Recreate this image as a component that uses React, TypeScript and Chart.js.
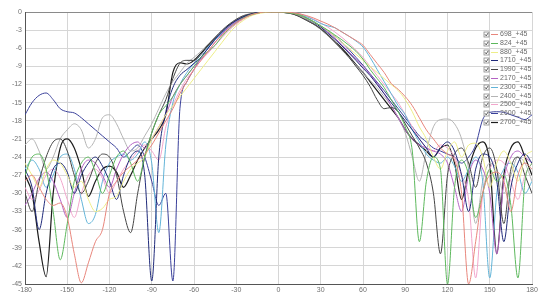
import React, { useEffect, useRef } from "react";
import { Chart, registerables } from "chart.js";

Chart.register(...registerables);

const ANGLES = [
  -180, -175, -170, -165, -160, -155, -150, -145, -140, -135, -130, -125,
  -120, -115, -110, -105, -100, -95, -90, -85, -80, -75, -70, -65,
  -60, -55, -50, -45, -40, -35, -30, -25, -20, -15, -10, -5,
  0, 5, 10, 15, 20, 25, 30, 35, 40, 45, 50, 55,
  60, 65, 70, 75, 80, 85, 90, 95, 100, 105, 110, 115,
  120, 125, 130, 135, 140, 145, 150, 155, 160, 165, 170, 175,
  180,
];

const Y_TICKS = [0, -3, -6, -9, -12, -15, -18, -21, -24, -27, -30, -33, -36, -39, -42, -45];
const X_TICKS = [-180, -150, -120, -90, -60, -30, 0, 30, 60, 90, 120, 150, 180];

const LABELS = [
  "698_+45", "824_+45", "880_+45", "1710_+45", "1990_+45", "2170_+45",
  "2300_+45", "2400_+45", "2500_+45", "2600_+45", "2700_+45",
];

const COLORS = [
  "#e8867c", "#5cb85c", "#eeee88", "#1f2a7a", "#444444", "#b462c4",
  "#62b4d8", "#b4b4b4", "#f2a6cc", "#3a409a", "#1c1c1c",
];

const WIDTHS = [1, 1, 1, 1, 1, 1, 1, 1, 1, 1, 1.2];

const S698 = [
  -28, -27, -29, -31, -32, -31.6, -34, -40, -44.8, -41.5, -38, -36,
  -30, -28, -26.5, -25.5, -24.5, -23.5, -22, -20, -18, -16, -13.5, -11.5,
  -9.5, -8, -6.5, -5, -3.8, -2.7, -1.8, -1.1, -0.5, -0.2, 0, 0,
  0, 0, -0.1, -0.3, -0.6, -1, -1.5, -2, -2.6, -3.3, -4, -4.7,
  -5.5, -7, -8.5, -10, -11.8, -12.8, -14, -15.5, -17.5, -19.5, -21, -22.5,
  -23.5, -24.5, -30, -45, -38, -30, -27, -26.5, -28, -33, -27, -25,
  -26,
];

const S824 = [
  -27, -24, -23.5, -26, -33, -41, -35, -28, -25, -24, -26.5, -30,
  -27, -24, -23, -25, -28, -24, -20, -17, -15.5, -14, -12, -10.5,
  -9, -7.5, -6.5, -5.5, -4, -2.8, -1.8, -1, -0.5, -0.2, 0, 0,
  0, -0.1, -0.2, -0.5, -1, -1.6, -2.3, -3, -3.8, -4.6, -5.5, -6.5,
  -7.8, -9.5, -11, -12.5, -14.5, -16.5, -19, -23, -38, -28, -24, -26,
  -45, -29, -24.5, -27, -34, -30, -26, -28, -27, -32, -44, -28,
  -25,
];

const S880 = [
  -25, -27, -29, -26, -24.5, -25, -27, -29, -28, -31, -33, -32.5,
  -31, -30.5, -28, -26, -25, -24, -21, -19, -17, -15.5, -14, -12.5,
  -11, -9.5, -8, -6.5, -5, -3.5, -2.3, -1.4, -0.7, -0.3, -0.1, 0,
  0, 0, -0.2, -0.5, -1, -1.6, -2.3, -3.1, -4, -5, -6, -7,
  -8, -9, -10, -11, -12, -13, -14.5, -16.5, -19, -21, -24, -26,
  -23, -21.5, -24, -22, -21.7, -24, -29, -25, -23, -25, -28, -24,
  -23,
];

const S1710 = [
  -26, -29, -36, -30, -26, -25, -26.5, -30, -27, -25, -24, -25.5,
  -28, -31, -27, -24, -23, -27, -44.5, -24, -16.5, -12.5, -10.5, -9.5,
  -8.5, -7.5, -6, -4.5, -3.2, -2.2, -1.4, -0.8, -0.4, -0.1, 0, 0,
  0, 0, -0.2, -0.5, -1, -1.7, -2.5, -3.5, -4.5, -5.6, -6.8, -8,
  -9.3, -10.5, -12, -13.5, -15, -16.5, -18, -19.5, -21, -22.5, -24, -22.5,
  -21.5, -23, -27, -33, -26, -23.5, -24, -28, -38, -29, -25, -23.5,
  -25,
];

const S1990 = [
  -30, -33, -28, -24, -21.5, -21, -23, -27, -30, -28, -25, -23.5,
  -24, -27, -33, -36.5, -30, -24, -20, -17, -14.5, -11, -8.5, -8,
  -8, -7, -5.5, -4.2, -3, -2, -1.2, -0.6, -0.3, -0.1, 0, 0,
  0, -0.1, -0.3, -0.8, -1.4, -2, -2.8, -3.8, -5, -6.2, -7.5, -9,
  -10.5, -12.3, -14.5, -16, -15.8, -16.5, -18.5, -20.5, -22.5, -25, -30, -40,
  -27, -23.5, -22.5, -25, -29, -24, -22.5, -26, -35, -26, -24, -27,
  -30,
];

const S2170 = [
  -32, -30, -27.5, -26.5, -28, -31, -34, -30, -26, -24.5, -25, -27,
  -29, -26, -23.5, -22, -21.5, -22.5, -21, -19, -17, -14, -12, -10.5,
  -9, -7.8, -6.5, -5, -3.6, -2.5, -1.6, -1, -0.5, -0.2, 0, 0,
  0, 0, -0.2, -0.5, -1, -1.6, -2.4, -3.3, -4.3, -5.4, -6.6, -7.8,
  -9, -10.3, -11.8, -13.5, -15.5, -17.5, -19.5, -21, -22, -22.5, -23, -23.5,
  -25, -29, -33, -27, -24.5, -26, -30, -40, -28, -24, -23, -24,
  -25,
];

const S2300 = [
  -26, -24.5, -26, -29, -27, -24, -23.5, -26, -31, -35, -33.5, -28,
  -25, -24, -23.5, -24.5, -23.5, -21.5, -25, -36.5, -22, -15, -12, -10,
  -8.5, -7, -5.8, -4.6, -3.5, -2.5, -1.7, -1, -0.5, -0.2, 0, 0,
  0, 0, -0.1, -0.4, -0.8, -1.3, -1.9, -2.3, -2.6, -3.3, -4, -4.8,
  -5.8, -7.5, -9.5, -11.5, -13.5, -15.5, -17, -19.5, -21.5, -23.5, -24.5, -25,
  -24, -25.5, -28, -26, -24, -28, -44, -30, -26, -25, -26.5, -30,
  -28,
];

const S2400 = [
  -22, -21, -23, -26, -24, -21, -19.5, -18.5, -19.5, -22.5, -21, -17.5,
  -17, -18.5, -21, -23, -22.5, -20.5, -18.5, -16, -13.5, -11.5, -10, -8.5,
  -7.5, -6.5, -5.3, -4.2, -3.2, -2.3, -1.5, -0.9, -0.4, -0.1, 0, 0,
  0, -0.1, -0.3, -0.7, -1.3, -2, -2.9, -3.9, -5, -6.3, -7.5, -8.8,
  -10, -11.3, -12.5, -14, -15.5, -17.5, -20, -24, -28, -23, -19, -17.8,
  -17.7, -18.5, -21, -26, -35, -28, -25, -26, -30, -27, -24, -25,
  -28,
];

const S2500 = [
  -29, -31, -29.5, -27, -26, -27.5, -31, -34, -30, -27, -26, -27.5,
  -30, -28, -26, -24.5, -23, -22, -23, -24.5, -19, -15.5, -13, -11,
  -9.5, -8, -6.8, -5.5, -4.2, -3, -2, -1.2, -0.6, -0.2, 0, 0,
  0, 0, -0.1, -0.3, -0.7, -1.2, -1.8, -2.5, -3.3, -4.2, -5.2, -6.3,
  -7.5, -9, -10.5, -12, -13.5, -15, -17, -19, -21, -22.5, -23, -22,
  -22.5, -24, -27, -31, -44, -30, -26, -24.5, -25, -28, -31, -27,
  -25,
];

const S2600 = [
  -17, -15, -13.8, -13.4, -14.5, -16, -16.5, -16.7, -17.5, -18.5, -19.5, -20.5,
  -21.5, -22.5, -24, -23, -22, -24, -28, -32, -30, -44.5, -16, -11.5,
  -9.5, -7.5, -6, -4.6, -3.4, -2.4, -1.6, -1, -0.5, -0.2, 0, 0,
  0, 0, -0.2, -0.5, -1, -1.6, -2.3, -3.1, -4, -5, -6.2, -7.5,
  -8.8, -10.2, -11.6, -13, -14.5, -16, -17.5, -19, -20.5, -21.5, -22.5, -23,
  -23.5, -24, -25, -24, -22, -17.8, -16.6, -16.5, -16.6, -17, -17.4, -17.8,
  -17,
];

const S2700 = [
  -27, -30, -38, -43.8, -30, -22.5, -21, -22.5, -26, -30.5, -28, -26,
  -25.5, -26.5, -29, -27, -24.5, -22.5, -21, -19.5, -17, -10, -8.4, -8.6,
  -8, -6.8, -5.5, -4.3, -3.2, -2.2, -1.4, -0.8, -0.4, -0.1, 0, 0,
  0, -0.1, -0.3, -0.7, -1.3, -2, -2.8, -3.8, -4.9, -6, -7.3, -8.7,
  -10, -11.5, -13, -14.5, -16, -17.5, -19.5, -21, -22, -23, -24, -22.5,
  -22, -25, -31, -26, -22.5, -21.5, -25, -40, -27, -22.5, -21.5, -24,
  -27,
];

const SERIES = [S698, S824, S880, S1710, S1990, S2170, S2300, S2400, S2500, S2600, S2700];

const checkLegend = {
  id: "checkLegend",
  afterDatasetsDraw(chart: any) {
    const { ctx, chartArea } = chart;
    const x0 = chartArea.right - 48;
    const y0 = chartArea.top + 22;
    const step = 8.8;
    ctx.save();
    ctx.font = '7px "Liberation Sans", Arial, sans-serif';
    ctx.textBaseline = "middle";
    ctx.textAlign = "left";
    chart.data.datasets.forEach((ds: any, i: number) => {
      const y = Math.round(y0 + i * step) + 0.5;
      ctx.lineWidth = 0.8;
      ctx.strokeStyle = "#8a8a8a";
      ctx.fillStyle = "#ffffff";
      ctx.fillRect(x0, y - 2.5, 5, 5);
      ctx.strokeRect(x0, y - 2.5, 5, 5);
      ctx.strokeStyle = "#333333";
      ctx.beginPath();
      ctx.moveTo(x0 + 1, y - 0.2);
      ctx.lineTo(x0 + 2.2, y + 1.4);
      ctx.lineTo(x0 + 4.2, y - 1.6);
      ctx.stroke();
      ctx.strokeStyle = ds.borderColor;
      ctx.lineWidth = ds.borderWidth;
      ctx.beginPath();
      ctx.moveTo(x0 + 7, y);
      ctx.lineTo(x0 + 14, y);
      ctx.stroke();
      ctx.fillStyle = "#6a6a6a";
      ctx.fillText(ds.label, x0 + 16, y);
    });
    ctx.restore();
  },
};

export default function App() {
  const ref = useRef<HTMLCanvasElement | null>(null);

  useEffect(() => {
    document.body.style.margin = "0";
    const canvas = ref.current;
    if (!canvas) return;
    const datasets = SERIES.map((vals, i) => ({
      label: LABELS[i],
      data: ANGLES.map((a, j) => ({ x: a, y: vals[j] })),
      borderColor: COLORS[i],
      backgroundColor: COLORS[i],
      borderWidth: WIDTHS[i],
      pointRadius: 0,
      tension: 0.35,
      cubicInterpolationMode: "monotone" as const,
      fill: false,
    }));
    const tickFont = { size: 7, family: '"Liberation Sans", Arial, sans-serif' };
    const chart = new Chart(canvas, {
      type: "line",
      data: { datasets },
      plugins: [checkLegend],
      options: {
        animation: false,
        responsive: false,
        maintainAspectRatio: false,
        layout: { padding: { top: 12, right: 9, left: 0, bottom: 0 } },
        plugins: {
          legend: { display: false },
          tooltip: { enabled: false },
        },
        scales: {
          x: {
            type: "linear",
            min: -180,
            max: 180,
            afterBuildTicks: (s: any) => {
              s.ticks = X_TICKS.map((v) => ({ value: v }));
            },
            afterFit: (s: any) => {
              s.height = 15;
            },
            ticks: {
              color: "#707070",
              font: tickFont,
              padding: 2,
              maxRotation: 0,
              autoSkip: false,
            },
            grid: {
              color: (c: any) =>
                c.tick && c.tick.value === -180 ? "#555555" : "#d6d6d6",
              lineWidth: 1,
              drawTicks: false,
            },
            border: { display: true, color: "#555555", width: 1 },
          },
          y: {
            type: "linear",
            min: -45,
            max: 0,
            afterBuildTicks: (s: any) => {
              s.ticks = Y_TICKS.map((v) => ({ value: v }));
            },
            afterFit: (s: any) => {
              s.width = 25;
            },
            ticks: {
              color: "#707070",
              font: tickFont,
              padding: 3,
              autoSkip: false,
            },
            grid: {
              color: (c: any) =>
                c.tick && c.tick.value === 0 ? "#8a8a8a" : "#d6d6d6",
              lineWidth: 1,
              drawTicks: false,
            },
            border: { display: true, color: "#555555", width: 1 },
          },
        },
      },
    });
    return () => chart.destroy();
  }, []);

  return (
    <div style={{ width: 541, height: 299, background: "#ffffff" }}>
      <canvas ref={ref} width={541} height={299} style={{ display: "block" }} />
    </div>
  );
}
